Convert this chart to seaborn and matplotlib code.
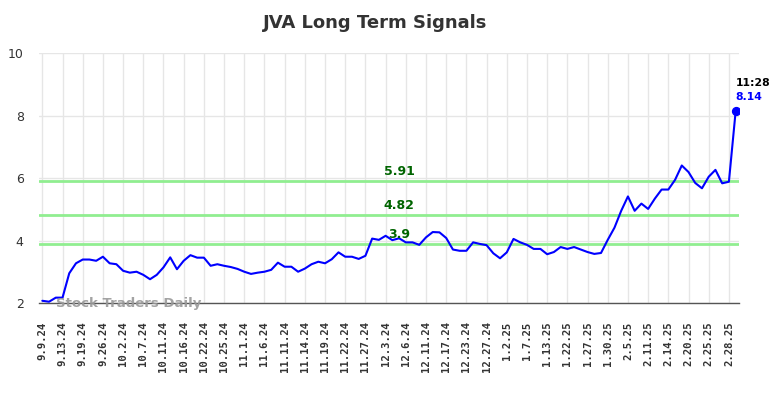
import pandas as pd
import matplotlib
matplotlib.use("Agg")
import matplotlib.pyplot as plt
import seaborn as sns

# tick labels (every 3rd sample)
tick_labels = ["9.9.24", "9.13.24", "9.19.24", "9.26.24", "10.2.24", "10.7.24",
               "10.11.24", "10.16.24", "10.22.24", "10.25.24", "11.1.24", "11.6.24",
               "11.11.24", "11.14.24", "11.19.24", "11.22.24", "11.27.24", "12.3.24",
               "12.6.24", "12.11.24", "12.17.24", "12.23.24", "12.27.24", "1.2.25",
               "1.7.25", "1.13.25", "1.22.25", "1.27.25", "1.30.25", "2.5.25",
               "2.11.25", "2.14.25", "2.20.25", "2.25.25", "2.28.25"]

signal = [2.08, 2.05, 2.18, 2.18, 2.96, 3.28, 3.40, 3.40, 3.36, 3.49,
          3.28, 3.25, 3.04, 2.98, 3.01, 2.91, 2.77, 2.91, 3.15, 3.47,
          3.09, 3.36, 3.54, 3.46, 3.46, 3.20, 3.25, 3.20, 3.16, 3.10,
          3.01, 2.94, 2.98, 3.01, 3.07, 3.30, 3.17, 3.17, 3.01, 3.11,
          3.25, 3.33, 3.28, 3.41, 3.63, 3.49, 3.49, 3.42, 3.52, 4.07,
          4.03, 4.16, 4.02, 4.08, 3.95, 3.95, 3.87, 4.11, 4.28, 4.27,
          4.09, 3.72, 3.68, 3.68, 3.95, 3.90, 3.86, 3.60, 3.44, 3.63,
          4.06, 3.95, 3.87, 3.74, 3.74, 3.57, 3.64, 3.80, 3.74, 3.80,
          3.72, 3.64, 3.58, 3.61, 4.03, 4.42, 4.96, 5.42, 4.96, 5.19,
          5.02, 5.35, 5.64, 5.64, 5.95, 6.41, 6.20, 5.85, 5.68, 6.05,
          6.27, 5.84, 5.89, 8.14]

levels = [5.91, 4.82, 3.9]
level_labels = ["5.91", "4.82", "3.9"]
last_time = "11:28"

df = pd.DataFrame({"idx": range(len(signal)), "signal": signal})

sns.set_style("white")
fig = plt.figure(figsize=(7.84, 3.98), dpi=100)
ax = fig.add_axes([0.0497, 0.238, 0.8929, 0.628])

sns.lineplot(data=df, x="idx", y="signal", color="#0000ff", linewidth=1.5, ax=ax, zorder=3)

for lv, lb in zip(levels, level_labels):
    ax.axhline(lv, color="#90ee90", linewidth=2, zorder=2)
    ax.text(53, lv + 0.1, lb, color="#006400", fontsize=9, fontweight="bold",
            ha="center", va="bottom", zorder=4)

# last point
last = df.iloc[-1]
ax.scatter([last["idx"]], [last["signal"]], color="#0000ff", s=32, zorder=5)
ax.annotate(f"{last['signal']:.2f}", (last["idx"], last["signal"]), xytext=(0, 7),
            textcoords="offset points", color="#0000ff", fontsize=7.8,
            fontweight="bold", ha="left", va="bottom")
ax.annotate(last_time, (last["idx"], last["signal"]), xytext=(0, 17),
            textcoords="offset points", color="black", fontsize=7.8,
            fontweight="bold", ha="left", va="bottom")

ax.text(2, 2.0, "Stock Traders Daily", color="#999999", fontsize=9.5,
        fontweight="bold", ha="left", va="center", zorder=6, alpha=0.9)

ticks = list(range(0, len(signal) - 1, 3))
ax.set_xticks(ticks)
ax.set_xticklabels(tick_labels, rotation=90, family="DejaVu Sans Mono",
                   fontweight="bold", fontsize=7.7, color="#333333")
ax.set_yticks([2, 4, 6, 8, 10])
ax.tick_params(axis="y", length=0, pad=11, labelsize=9, labelcolor="#333333")
ax.tick_params(axis="x", length=0, pad=13)
ax.set_xlim(-0.5, len(signal) - 0.5)
ax.set_ylim(2, 10)
ax.grid(True, color="#e6e6e6", linewidth=1)
ax.set_xlabel("")
ax.set_ylabel("")
for s in ["top", "right", "left"]:
    ax.spines[s].set_visible(False)
ax.spines["bottom"].set_color("#555555")
ax.spines["bottom"].set_linewidth(1)

fig.suptitle("JVA Long Term Signals", fontsize=13, fontweight="bold",
             color="#333333", x=0.478, y=0.965)

fig.savefig("out.png", dpi=100)
